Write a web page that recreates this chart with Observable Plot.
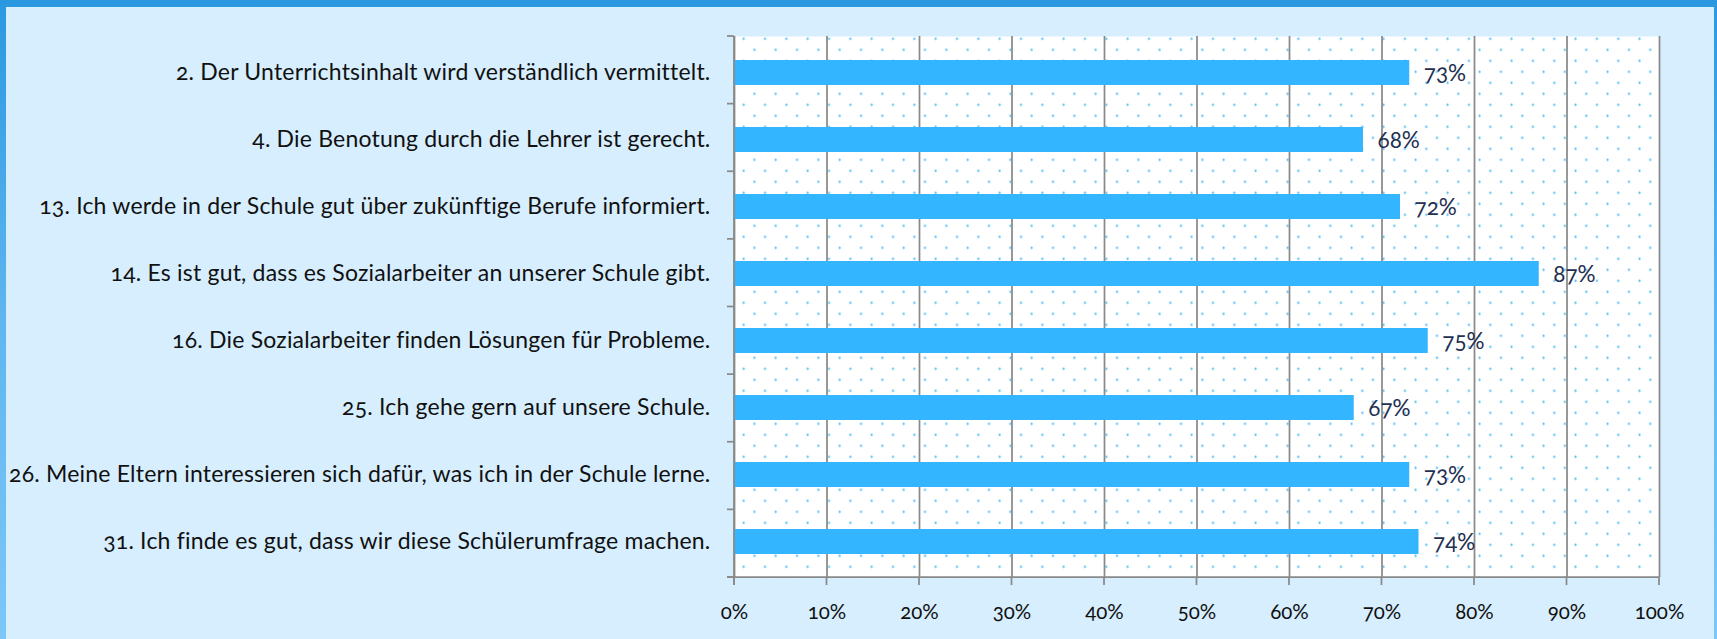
<!DOCTYPE html>
<html>
<head>
<meta charset="utf-8">
<script src="https://cdn.jsdelivr.net/npm/d3@7"></script>
<script src="https://cdn.jsdelivr.net/npm/@observablehq/plot@0.6"></script>
<style>
  html, body { margin: 0; padding: 0; }
  #wrap { position: relative; width: 1717px; height: 639px; overflow: hidden;
          background: linear-gradient(to bottom, #2a98e0 0%, #5fb6f0 50%, #7cc7f8 100%); }
  #inner { position: absolute; top: 7px; left: 6px; right: 3px; bottom: 0; background: #d6eefe; }
  #chart { position: absolute; top: 0; left: 0; }
</style>
</head>
<body>
<div id="wrap"><div id="inner"></div><div id="chart"></div></div>
<script>
const categories = [
  "2. Der Unterrichtsinhalt wird verständlich vermittelt.",
  "4. Die Benotung durch die Lehrer ist gerecht.",
  "13. Ich werde in der Schule gut über zukünftige Berufe informiert.",
  "14. Es ist gut, dass es Sozialarbeiter an unserer Schule gibt.",
  "16. Die Sozialarbeiter finden Lösungen für Probleme.",
  "25. Ich gehe gern auf unsere Schule.",
  "26. Meine Eltern interessieren sich dafür, was ich in der Schule lerne.",
  "31. Ich finde es gut, dass wir diese Schülerumfrage machen."
];
const values = [73, 68, 72, 87, 75, 67, 73, 74];
const xTicks = [0, 10, 20, 30, 40, 50, 60, 70, 80, 90, 100];

const data = categories.map((q, i) => ({ q, v: values[i] }));
const axisGray = "#8a8a8a";

function axesMark(index, scales, values, dimensions) {
  const { width, height, marginLeft, marginRight, marginTop, marginBottom } = dimensions;
  const x = scales.x;
  const bottom = height - marginBottom;
  const n = categories.length;
  const step = (height - marginTop - marginBottom) / n;
  const g = d3.create("svg:g").attr("stroke", axisGray).attr("stroke-width", 1.75).attr("fill", "none");
  g.append("line").attr("x1", marginLeft).attr("x2", marginLeft).attr("y1", marginTop).attr("y2", bottom + 8);
  for (let i = 0; i <= n; i++) {
    const yy = marginTop + i * step;
    g.append("line").attr("x1", marginLeft - 7).attr("x2", marginLeft).attr("y1", yy).attr("y2", yy);
  }
  g.append("line").attr("x1", marginLeft - 7).attr("x2", width - marginRight).attr("y1", bottom).attr("y2", bottom);
  for (const t of xTicks) {
    const xx = x(t);
    g.append("line").attr("x1", xx).attr("x2", xx).attr("y1", bottom).attr("y2", bottom + 8);
  }
  return g.node();
}

const svg = Plot.plot({
  width: 1717,
  height: 639,
  marginLeft: 734,
  marginRight: 58,
  marginTop: 36,
  marginBottom: 62,
  style: {
    background: "transparent",
    fontFamily: "Lato, 'Open Sans', sans-serif",
    fontSize: "23px",
    color: "#111",
    fontVariantNumeric: "oldstyle-nums",
    fontFeatureSettings: "'onum' 1"
  },
  x: { domain: [0, 100], ticks: xTicks, tickFormat: d => d + "%", tickSize: 0, tickPadding: 27, label: null },
  y: { domain: categories, paddingInner: 0.63, paddingOuter: 0.315, tickSize: 0, tickPadding: 24, label: null },
  marks: [
    Plot.frame({ fill: "url(#dots)", stroke: null }),
    Plot.ruleX(xTicks, { stroke: axisGray, strokeWidth: 1.75 }),
    Plot.barX(data, { x: "v", y: "q", fill: "#33b6ff" }),
    Plot.text(data, { x: "v", y: "q", text: d => d.v + "%", textAnchor: "start", dx: 14, dy: 1, fill: "#1f3050", fontSize: 22.5 }),
    axesMark
  ]
});

d3.select(svg).selectAll('[aria-label^="x-axis"]').attr("font-size", 20.5);
d3.select(svg).selectAll('[aria-label^="y-axis"]').attr("letter-spacing", "0.2px");

d3.select(svg).insert("defs", ":first-child").html(
  `<pattern id="dots" patternUnits="userSpaceOnUse" width="21.33" height="22">
     <rect width="21.33" height="22" fill="#ffffff"></rect>
     <circle cx="18" cy="16.3" r="1.15" fill="#3cb4f4"></circle>
     <circle cx="7.33" cy="5.3" r="1.15" fill="#3cb4f4"></circle>
   </pattern>`
);

document.getElementById("chart").appendChild(svg);
</script>
</body>
</html>
